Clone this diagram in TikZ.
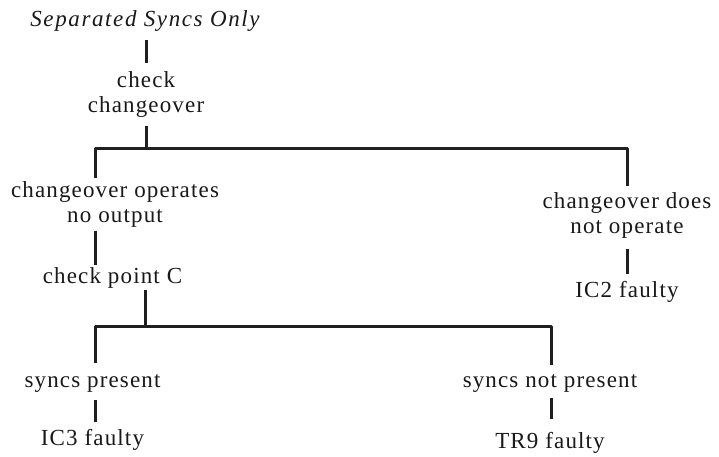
\documentclass[tikz,border=0pt]{standalone}
\usepackage{fontspec}
\setmainfont{Liberation Serif}[LetterSpace=5]
\begin{document}
\begin{tikzpicture}[x=1pt, y=-1pt,
  label/.style={inner sep=0pt, text=black!90, font=\fontsize{23}{25}\selectfont},
  twoline/.style={label, align=center, anchor=north},
  oneline/.style={label, anchor=base},
  link/.style={line width=3pt, line join=round, draw=black!88}]
\useasboundingbox[fill=white] (0,0) rectangle (719,457);

% labels
\node[oneline] (T)   at (145,27)    {\itshape\addfontfeature{LetterSpace=7}Separated Syncs Only};
\node[twoline] (chk) at (146,71.3)  {check\\changeover};
\node[twoline] (opA) at (115,181.3) {changeover operates\\no output};
\node[twoline] (opB) at (627,192.3) {changeover does\\not operate};
\node[oneline] (ic2) at (627,297)   {IC2 faulty};
\node[oneline] (cpC) at (112.5,283) {check point C};
\node[oneline] (sp)  at (92.5,387)  {syncs present};
\node[oneline] (ic3) at (92.5,445)  {IC3 faulty};
\node[oneline] (snp) at (550,387)   {syncs not present};
\node[oneline] (tr9) at (550,448)   {TR9 faulty};

% junctions on the two branch bars
\coordinate (j1) at (146,149);
\coordinate (dA) at (95,149);
\coordinate (dB) at (627,149);
\coordinate (j2) at (145,326.5);
\coordinate (eA) at (95,326.5);
\coordinate (eB) at (551,326.5);

% connectors
\draw[link, shorten <=8pt, shorten >=8pt] (chk.north |- T.south) -- (chk.north);
\draw[link, shorten <=8pt] (chk.south) -- (j1);
\draw[link, shorten <=3.3pt, shorten >=6pt] (opA.north -| dA) -- (dA) -- (dB) -- (opB.north -| dB);
\draw[link, shorten <=3pt, shorten >=2.3pt] (opA.south -| dA) -- (cpC.north -| dA);
\draw[link, shorten <=10pt, shorten >=7pt] (opB.south -| dB) -- (ic2.north -| dB);
\draw[link, shorten <=2pt] (cpC.south -| j2) -- (j2);
\draw[link, shorten <=10.7pt, shorten >=8.7pt] (sp.north -| eA) -- (eA) -- (eB) -- (snp.north -| eB);
\draw[link, shorten <=8pt, shorten >=6.3pt] (sp.south -| eA) -- (ic3.north -| eA);
\draw[link, shorten <=6pt, shorten >=12.3pt] (snp.south -| eB) -- (tr9.north -| eB);
\end{tikzpicture}
\end{document}
